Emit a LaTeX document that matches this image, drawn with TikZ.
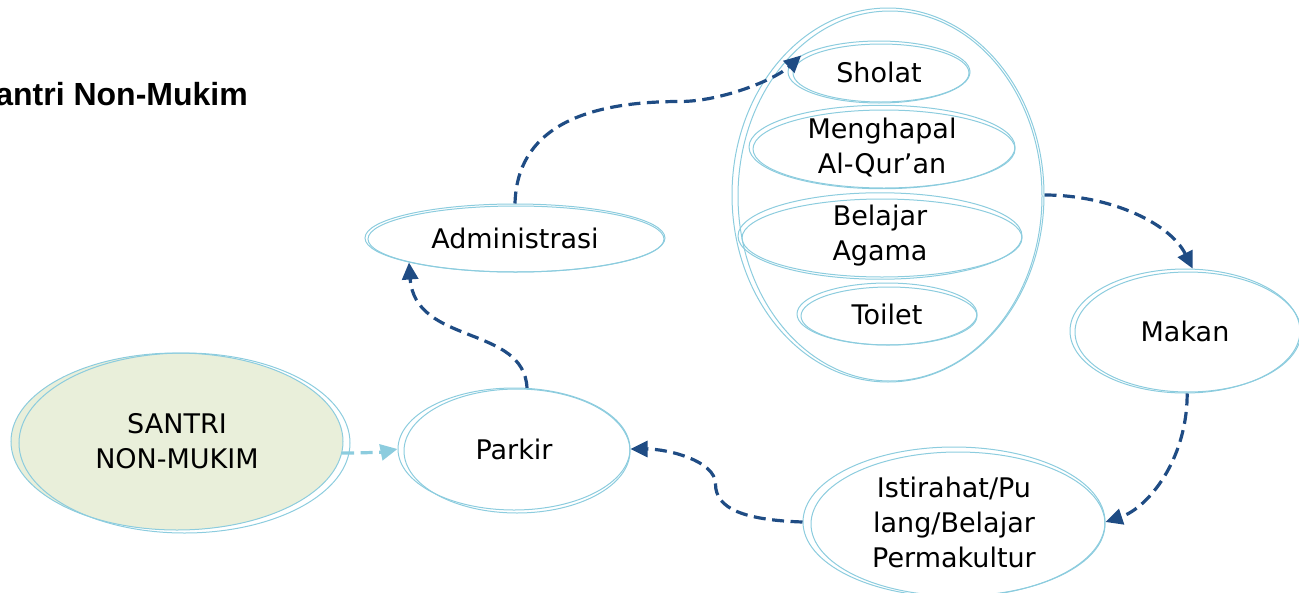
\documentclass[tikz,border=0pt]{standalone}
\usepackage{fontspec}
\setmainfont{DejaVu Sans}
\newfontfamily\titlefont{Liberation Sans}
\usetikzlibrary{shapes.geometric,arrows.meta}
\definecolor{ring}{RGB}{140,204,222}
\definecolor{flow}{RGB}{31,76,132}
\definecolor{leaf}{RGB}{233,239,218}

\begin{document}
\begin{tikzpicture}[x=1pt,y=-1pt,
  bubble/.style={ellipse, draw=ring, line width=1pt, inner sep=0pt,
    align=center, font=\fontsize{27}{35}\selectfont},
  halo/.style={draw=ring, line width=1pt},
  flowline/.style={draw=flow, line width=3.2pt, dash pattern=on 12pt off 6.5pt,
    -{Triangle[length=17pt,width=16pt]}},
  flowlight/.style={flowline, draw=ring, -{Triangle[length=17pt,width=16pt,fill=ring]}}]
\useasboundingbox (0,0) rectangle (1299,592);
\clip (0,0) rectangle (1299,592);

% heading
\node[anchor=base east, inner sep=0pt,
  font=\titlefont\bfseries\fontsize{32}{38}\selectfont] (title) at (248,105) {Santri Non-Mukim};

% start
\node[bubble, fill=leaf, minimum width=332pt, minimum height=177pt] (santri) at (177,441.5) {SANTRI\\NON-MUKIM};
\draw[halo] ([shift={(7.5,1.5)}]santri.center) ellipse [x radius=165.5, y radius=90];

% parking and administration
\node[bubble, minimum width=232pt, minimum height=122pt] (parkir) at (514,449) {Parkir};
\draw[halo] ([shift={(3,2)}]parkir.center) ellipse [x radius=113, y radius=62];

\node[bubble, minimum width=300pt, minimum height=68pt] (admin) at (515,238) {Administrasi};
\draw[halo] ([shift={(1,1)}]admin.center) ellipse [x radius=148, y radius=33];

% activity group
\node[bubble, minimum width=312pt, minimum height=374pt] (kegiatan) at (888,195) {};
\draw[halo] ([shift={(2,1)}]kegiatan.center) ellipse [x radius=152, y radius=185];

\node[bubble, minimum width=182pt, minimum height=62pt] (sholat) at (879,72) {Sholat};
\draw[halo] ([shift={(2,1)}]sholat.center) ellipse [x radius=88, y radius=29];

\node[bubble, minimum width=266pt, minimum height=82pt] (hafalan) at (882,147) {Menghapal\\Al-Qur’an};
\draw[halo] ([shift={(2,2)}]hafalan.center) ellipse [x radius=131, y radius=39];

\node[bubble, minimum width=284pt, minimum height=82pt] (agama) at (880,236) {Belajar\\Agama};
\draw[halo] ([shift={(2,2)}]agama.center) ellipse [x radius=140, y radius=39];

\node[bubble, minimum width=180pt, minimum height=62pt] (toilet) at (887,314) {Toilet};
\draw[halo] ([shift={(2,2)}]toilet.center) ellipse [x radius=88, y radius=29];

% meal and end of day
\node[bubble, minimum width=230pt, minimum height=124pt] (makan) at (1185,331) {Makan};
\draw[halo] ([shift={(3,1)}]makan.center) ellipse [x radius=113, y radius=60];

\node[bubble, minimum width=302pt, minimum height=150pt] (istirahat) at (954,522) {Istirahat/Pu\\lang/Belajar\\Permakultur};
\draw[halo] ([shift={(4,2)}]istirahat.center) ellipse [x radius=147, y radius=72];

% flow
\draw[flowlight] (santri.-4) .. controls +(22,0) and +(-15,3) .. (parkir.west);
\draw[flowline] (parkir.78) .. controls +(-3,-63) and +(6,83) .. (admin.193);
\draw[flowline] (admin.north) .. controls +(2,-73) and +(-100,0) .. ++(165,-102)
  .. controls +(40,0) and +(-27,25) .. (sholat.168);
\draw[flowline] (kegiatan.east) .. controls +(65,0) and +(-23,-46) .. (makan.83);
\draw[flowline] (makan.-88) .. controls +(0,67) and +(42,-14) .. (istirahat.east);
\draw[flowline] (istirahat.west) .. controls +(-58,-2) and +(0,25) .. ++(-87,-38)
  .. controls +(0,-23) and +(38,0) .. (parkir.east);
\end{tikzpicture}
\end{document}
